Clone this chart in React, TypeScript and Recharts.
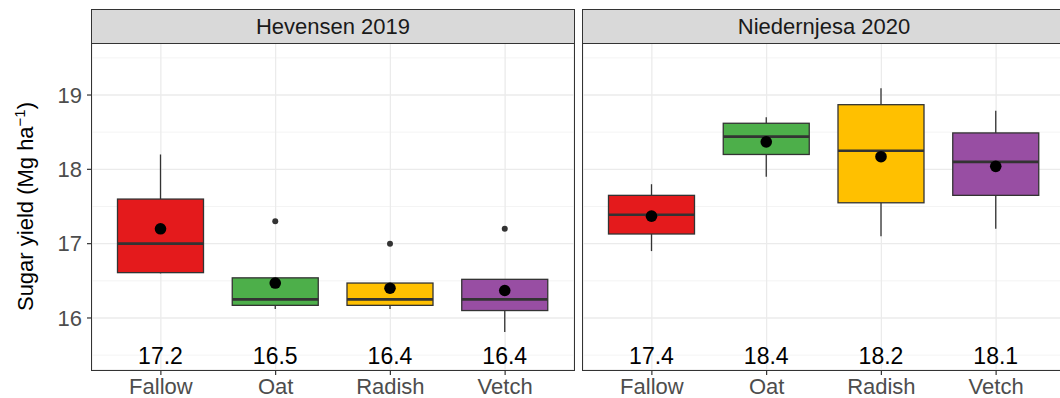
import React from 'react';
import { ComposedChart, Bar, XAxis, YAxis, CartesianGrid } from 'recharts';

const categories = ['Fallow', 'Oat', 'Radish', 'Vetch'];
const colors = ['#E41A1C', '#4DAF4A', '#FFC000', '#984EA3'];

// Hevensen 2019
const hevMin = [16.6, 16.12, 16.12, 15.81];
const hevQ1 = [16.61, 16.17, 16.17, 16.1];
const hevMedian = [17.0, 16.25, 16.25, 16.25];
const hevQ3 = [17.6, 16.54, 16.47, 16.52];
const hevMax = [18.2, 16.54, 16.47, 16.52];
const hevMean = [17.2, 16.47, 16.4, 16.37];
const hevOutlier = [null, 17.3, 17.0, 17.2];
const hevLabels = ['17.2', '16.5', '16.4', '16.4'];

// Niedernjesa 2020
const nieMin = [16.9, 17.9, 17.1, 17.2];
const nieQ1 = [17.13, 18.2, 17.55, 17.65];
const nieMedian = [17.39, 18.44, 18.25, 18.1];
const nieQ3 = [17.65, 18.62, 18.87, 18.49];
const nieMax = [17.8, 18.7, 19.09, 18.79];
const nieMean = [17.37, 18.37, 18.17, 18.04];
const nieOutlier = [null, null, null, null];
const nieLabels = ['17.4', '18.4', '18.2', '18.1'];

const yDomain = [15.3, 19.7];
const yTicks = [16, 17, 18, 19];
const yMinor = [15.5, 16.5, 17.5, 18.5, 19.5];
const labelValue = 15.38;

const panelTitles = ['Hevensen 2019', 'Niedernjesa 2020'];

function build(min, q1, med, q3, max, mean, out, labels) {
  return categories.map((c, i) => ({
    cat: c,
    min: min[i],
    q1: q1[i],
    median: med[i],
    q3: q3[i],
    max: max[i],
    mean: mean[i],
    outlier: out[i],
    label: labels[i],
    color: colors[i],
  }));
}

const hevData = build(hevMin, hevQ1, hevMedian, hevQ3, hevMax, hevMean, hevOutlier, hevLabels);
const nieData = build(nieMin, nieQ1, nieMedian, nieQ3, nieMax, nieMean, nieOutlier, nieLabels);

const FONT = '"Liberation Sans", Arial, sans-serif';
const DARK = '#333333';

function BoxShape(props: any) {
  const { x, y, width, height, payload } = props;
  const top = Math.min(y, y + height);
  const h = Math.abs(height);
  const ppu = h / (payload.max - payload.min);
  const yOf = (v: number) => top + (payload.max - v) * ppu;
  const cx = x + width / 2;
  return (
    <g>
      <line x1={cx} x2={cx} y1={yOf(payload.max)} y2={yOf(payload.q3)} stroke={DARK} strokeWidth={1.3} />
      <line x1={cx} x2={cx} y1={yOf(payload.q1)} y2={yOf(payload.min)} stroke={DARK} strokeWidth={1.3} />
      <rect
        x={x}
        y={yOf(payload.q3)}
        width={width}
        height={yOf(payload.q1) - yOf(payload.q3)}
        fill={payload.color}
        stroke={DARK}
        strokeWidth={1.3}
      />
      <line x1={x} x2={x + width} y1={yOf(payload.median)} y2={yOf(payload.median)} stroke={DARK} strokeWidth={2.6} />
      {payload.outlier != null && <circle cx={cx} cy={yOf(payload.outlier)} r={3} fill={DARK} />}
      <circle cx={cx} cy={yOf(payload.mean)} r={5.8} fill="#000" />
      <text x={cx} y={yOf(labelValue)} textAnchor="middle" fontSize={23} fill="#000" fontFamily={FONT}>
        {payload.label}
      </text>
    </g>
  );
}

const YTitle = (p: any) => {
  const vb = p.viewBox || { x: 0, y: 43, width: 92, height: 327 };
  const cx = vb.x + 33;
  const cy = vb.y + vb.height / 2;
  return (
    <text
      x={cx}
      y={cy}
      transform={`rotate(-90 ${cx} ${cy})`}
      textAnchor="middle"
      fontSize={22}
      fill="#000"
      fontFamily={FONT}
    >
      Sugar yield (Mg ha
      <tspan dy={-8} fontSize={15}>−1</tspan>
      <tspan dy={8}>)</tspan>
    </text>
  );
};

function Panel({ data, showY, width }: any) {
  return (
    <ComposedChart
      width={width}
      height={398}
      data={data}
      margin={{ top: 43, right: showY ? 6 : 0, bottom: 0, left: 0 }}
      style={{ fontFamily: FONT }}
    >
      <CartesianGrid
        horizontalValues={yMinor}
        vertical={false}
        stroke="#F3F3F3"
        strokeWidth={0.9}
      />
      <CartesianGrid stroke="#EBEBEB" strokeWidth={1.3} />
      <XAxis
        dataKey="cat"
        padding={{ left: 11.5, right: 11.5 }}
        axisLine={false}
        tickLine={{ stroke: DARK, strokeWidth: 1.2 }}
        tickSize={5}
        tickMargin={3}
        height={28}
        tick={{ fill: '#4D4D4D', fontSize: 22, fontFamily: FONT }}
        interval={0}
      />
      <YAxis
        type="number"
        domain={yDomain}
        ticks={yTicks}
        allowDataOverflow
        hide={!showY}
        width={92}
        axisLine={false}
        tickLine={{ stroke: DARK, strokeWidth: 1.2 }}
        tickSize={5}
        tickMargin={5}
        tick={{ fill: '#4D4D4D', fontSize: 22, fontFamily: FONT }}
        label={showY ? { content: YTitle } : undefined}
      />
      <Bar
        dataKey={(d: any) => [d.min, d.max]}
        barSize={86}
        shape={BoxShape}
        isAnimationActive={false}
      />
    </ComposedChart>
  );
}

const stripStyle = (left: number): React.CSSProperties => ({
  position: 'absolute',
  left: left - 0.7,
  top: 9,
  width: 483.4,
  height: 34.7,
  boxSizing: 'border-box',
  border: `1.4px solid ${DARK}`,
  background: '#D9D9D9',
  display: 'flex',
  alignItems: 'center',
  justifyContent: 'center',
  fontSize: 22,
  color: '#1A1A1A',
  fontFamily: FONT,
  paddingTop: 2,
});

const borderStyle = (left: number): React.CSSProperties => ({
  position: 'absolute',
  left: left - 0.7,
  top: 42.3,
  width: 483.4,
  height: 328.4,
  boxSizing: 'border-box',
  border: `1.4px solid ${DARK}`,
  pointerEvents: 'none',
});

export default function App() {
  return (
    <div
      style={{
        position: 'absolute',
        left: 0,
        top: 0,
        width: 1060,
        height: 398,
        overflow: 'hidden',
        background: '#fff',
        fontFamily: FONT,
      }}
    >
      <div style={{ position: 'absolute', left: 0, top: 0 }}>
        <Panel data={hevData} showY width={580} />
      </div>
      <div style={{ position: 'absolute', left: 583, top: 0 }}>
        <Panel data={nieData} showY={false} width={482} />
      </div>
      <div style={borderStyle(92)} />
      <div style={borderStyle(583)} />
      <div style={stripStyle(92)}>{panelTitles[0]}</div>
      <div style={stripStyle(583)}>{panelTitles[1]}</div>
    </div>
  );
}
